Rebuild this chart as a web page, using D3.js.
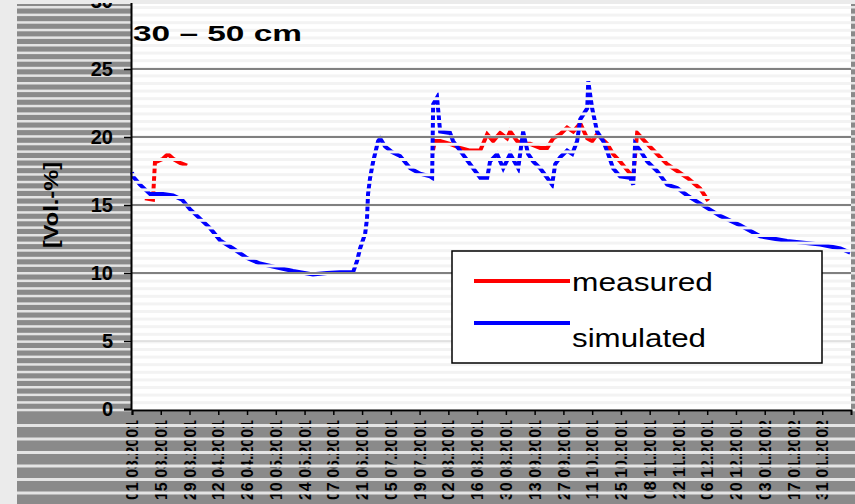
<!DOCTYPE html>
<html>
<head>
<meta charset="utf-8">
<script src="https://cdn.jsdelivr.net/npm/d3@7"></script>
<style>
  body { margin: 0; background: #ebebeb; }
  svg { display: block; font-family: "Liberation Sans", Arial, sans-serif; }
</style>
</head>
<body>
<div id="chart"></div>
<script>
// x positions are days from the first tick, ticks every 14 days
const tickLabels = [
  "01.03.2001", "15.03.2001", "29.03.2001", "12.04.2001", "26.04.2001",
  "10.05.2001", "24.05.2001", "07.06.2001", "21.06.2001", "05.07.2001",
  "19.07.2001", "02.08.2001", "16.08.2001", "30.08.2001", "13.09.2001",
  "27.09.2001", "11.10.2001", "25.10.2001", "08.11.2001", "22.11.2001",
  "06.12.2001", "20.12.2001", "03.01.2002", "17.01.2002", "31.01.2002"
];
const tickDays = d3.range(0, 337, 14);
const yTicks = [0, 5, 10, 15, 20, 25, 30];
const gridValues = [5, 10, 15, 20, 25];

const simDays = [
  0, 0.5, 3.9, 8.8, 15.1, 20, 24.3, 28.2, 33.1, 38, 42.9, 49.2, 56, 62.3, 70.6,
  78.4, 88.1, 95, 101.3, 107.6, 109.6, 111, 113.5, 114.4, 114.9, 115.9, 117.4,
  119.8, 120.8, 123.2, 126.6, 130.5, 135.4, 140.2, 145.1, 146.1, 146.6, 148.5,
  150, 154.8, 156.3, 159.7, 164.6, 169.5, 172.9, 174.3, 177.7, 180.7, 184.1,
  188, 190.4, 192.8, 195.3, 198.7, 202.1, 204.5, 206, 208.4, 211.8, 214.3,
  216.7, 218.2, 221.6, 222.1, 224, 226.4, 229.4, 231.8, 234.2, 237.6, 242.5,
  244, 244.9, 247.4, 250.8, 255.6, 260.5, 265.4, 270.3, 276.6, 286.3, 296.1,
  305.8, 318.9, 335, 344.8, 349.6
];
const simValues = [
  17.4, 17.1, 16.5, 15.8, 15.8, 15.7, 15.4, 14.7, 14.0, 13.3, 12.4, 11.8, 11.1,
  10.7, 10.4, 10.15, 9.9, 10.0, 10.05, 10.05, 10.9, 11.8, 12.9, 14.0, 15.8,
  17.0, 18.2, 19.7, 19.9, 19.3, 18.9, 18.6, 17.7, 17.3, 17.1, 17.0, 22.4, 22.9,
  20.4, 20.3, 19.7, 19.0, 18.0, 17.0, 17.0, 18.2, 18.75, 17.7, 18.75, 17.7,
  20.4, 18.75, 18.2, 17.7, 17.0, 16.5, 18.0, 18.5, 19.0, 18.75, 19.7, 21.3,
  22.1, 24.1, 22.1, 20.4, 19.7, 18.75, 17.7, 17.1, 17.0, 16.5, 19.5, 19.0,
  18.2, 17.5, 16.5, 16.25, 15.7, 15.1, 14.2, 13.5, 12.7, 12.35, 12.1, 11.8, 11.5
];

// null marks the gap between the two measured periods
const measDays = [
  6.3, 10.2, 11.2, 12.2, 15.1, 17.5, 20, 23.4, 26.8, 30,
  146.1, 147.5, 150, 154.8, 159.7, 164.6, 169.5, 172.9, 175.8, 179.2, 182.6,
  184.1, 187.5, 190.4, 193.8, 198.7, 202.1, 205, 208.4, 211.8, 214.8, 218.2,
  221.6, 224, 226.4, 231.3, 234.2, 237.6, 242.5, 244, 245.9, 250.8, 255.6,
  260.5, 265.4, 270.3, 276.6, 280.5
];
const measValues = [
  15.5, 15.4, 18.2, 18.2, 18.4, 18.75, 18.4, 18.1, 17.9, null,
  18.75, 19.7, 19.7, 19.5, 19.2, 19.0, 19.0, 20.2, 19.7, 20.3, 19.9,
  20.4, 19.7, 19.5, 19.5, 19.2, 19.2, 19.9, 20.2, 20.7, 20.4, 21.0,
  19.9, 19.7, 20.2, 19.5, 18.75, 18.2, 17.3, 17.1, 20.3, 19.5, 18.75,
  18.0, 17.5, 17.0, 16.2, 15.3
];

const width = 855,
  height = 504,
  plotLeft = 131,
  plotRight = 851,
  plotTop = 4,
  plotBottom = 410;

const svg = d3
  .select("#chart")
  .append("svg")
  .attr("width", width)
  .attr("height", height);

const x = d3.scaleLinear().domain([0, 350]).range([132, 851]);
const y = d3.scaleLinear().domain([0, 30]).range([409, 1]);

// grey frame with the scan stripes
svg
  .append("rect")
  .attr("x", 17)
  .attr("y", 4)
  .attr("width", width - 17)
  .attr("height", height - 4)
  .attr("fill", "#8a8a8a");

svg
  .append("g")
  .selectAll("rect")
  .data(d3.range(6, plotBottom, 7.6))
  .join("rect")
  .attr("x", 17)
  .attr("y", (d) => d)
  .attr("width", width - 17)
  .attr("height", 2.5)
  .attr("fill", "#e4e4e4");

// plot area
svg
  .append("rect")
  .attr("x", plotLeft)
  .attr("y", plotTop)
  .attr("width", plotRight - plotLeft)
  .attr("height", plotBottom - plotTop)
  .attr("fill", "#fff");

const simLine = d3
  .line()
  .x((d, i) => x(simDays[i]))
  .y((d) => y(d));

const measLine = d3
  .line()
  .defined((d) => d !== null)
  .x((d, i) => x(measDays[i]))
  .y((d) => y(d));

svg
  .append("path")
  .datum(measValues)
  .attr("d", measLine)
  .attr("fill", "none")
  .attr("stroke", "#ff0000")
  .attr("stroke-width", 4);

svg
  .append("path")
  .datum(simValues)
  .attr("d", simLine)
  .attr("fill", "none")
  .attr("stroke", "#0000ff")
  .attr("stroke-width", 4);

// faint stripes over the plot, they also break up the lines
svg
  .append("g")
  .selectAll("rect")
  .data(d3.range(6, plotBottom - 2, 7.6))
  .join("rect")
  .attr("x", plotLeft)
  .attr("y", (d) => d)
  .attr("width", plotRight - plotLeft)
  .attr("height", 3)
  .attr("fill", "#f3f3f3");

// gridlines
svg
  .append("g")
  .selectAll("line")
  .data(gridValues)
  .join("line")
  .attr("x1", plotLeft)
  .attr("x2", plotRight)
  .attr("y1", (d) => y(d))
  .attr("y2", (d) => y(d))
  .attr("stroke", (d) => (d === 5 ? "#d0d0d0" : "#5a5a5a"))
  .attr("stroke-width", (d) => (d === 5 ? 1 : 1.6));

// y axis
const yAxis = svg
  .append("g")
  .attr("transform", `translate(${plotLeft},0)`)
  .call(
    d3.axisLeft(y).tickValues(yTicks).tickSize(7).tickPadding(11).tickFormat(d3.format("d"))
  );
yAxis.select(".domain").attr("stroke", "#000").attr("stroke-width", 2);
yAxis.selectAll(".tick line").attr("stroke", "#000").attr("stroke-width", 1.5);
yAxis
  .selectAll(".tick text")
  .attr("fill", "#000")
  .style("font-size", "20px")
  .style("font-weight", "bold")
  .style("font-family", "'Liberation Sans', Arial, sans-serif");

// x axis
const xAxis = svg
  .append("g")
  .attr("transform", `translate(0,${plotBottom})`)
  .call(
    d3
      .axisBottom(x)
      .tickValues(tickDays)
      .tickSize(5)
      .tickFormat((d, i) => tickLabels[i])
  );
xAxis.select(".domain").attr("stroke", "#000").attr("stroke-width", 2);
xAxis.selectAll(".tick line").attr("stroke", "#000").attr("stroke-width", 1.5);
xAxis
  .selectAll(".tick text")
  .attr("fill", "#000")
  .attr("transform", "rotate(-90)")
  .attr("x", -10)
  .attr("y", 0)
  .attr("dy", "0.35em")
  .style("text-anchor", "end")
  .style("font-size", "16px")
  .style("font-weight", "bold")
  .style("font-family", "'Liberation Sans', Arial, sans-serif");

// horizontal stripes across the tick labels below the axis
svg
  .append("g")
  .selectAll("rect")
  .data(d3.range(plotBottom + 14, height, 13.5))
  .join("rect")
  .attr("x", 17)
  .attr("y", (d) => d)
  .attr("width", width - 17)
  .attr("height", 3)
  .attr("fill", "#e4e4e4");

// light band at the very top
svg
  .append("rect")
  .attr("x", 0)
  .attr("y", 0)
  .attr("width", width)
  .attr("height", 3)
  .attr("fill", "#ebebeb");

// y axis title
svg
  .append("text")
  .attr("transform", "translate(58,205) rotate(-90)")
  .attr("text-anchor", "middle")
  .attr("textLength", 86)
  .attr("lengthAdjust", "spacingAndGlyphs")
  .style("font-size", "21px")
  .style("font-weight", "bold")
  .text("[Vol.-%]");

// depth title
svg
  .append("text")
  .attr("x", 133)
  .attr("y", 41)
  .attr("textLength", 169)
  .attr("lengthAdjust", "spacingAndGlyphs")
  .style("font-size", "22px")
  .style("font-weight", "bold")
  .text("30 – 50 cm");

// legend
const legend = svg.append("g");
legend
  .append("rect")
  .attr("x", 452)
  .attr("y", 251)
  .attr("width", 370)
  .attr("height", 112)
  .attr("fill", "#fff")
  .attr("stroke", "#000")
  .attr("stroke-width", 1.5);

const legendItems = [
  { name: "measured", color: "#ff0000", ly: 281, ty: 291, len: 141 },
  { name: "simulated", color: "#0000ff", ly: 323, ty: 347, len: 134 },
];

legend
  .selectAll("line")
  .data(legendItems)
  .join("line")
  .attr("x1", 474)
  .attr("x2", 570)
  .attr("y1", (d) => d.ly)
  .attr("y2", (d) => d.ly)
  .attr("stroke", (d) => d.color)
  .attr("stroke-width", 4);

legend
  .selectAll("text")
  .data(legendItems)
  .join("text")
  .attr("x", 572)
  .attr("y", (d) => d.ty)
  .attr("textLength", (d) => d.len)
  .attr("lengthAdjust", "spacingAndGlyphs")
  .style("font-size", "26px")
  .text((d) => d.name);
</script>
</body>
</html>
